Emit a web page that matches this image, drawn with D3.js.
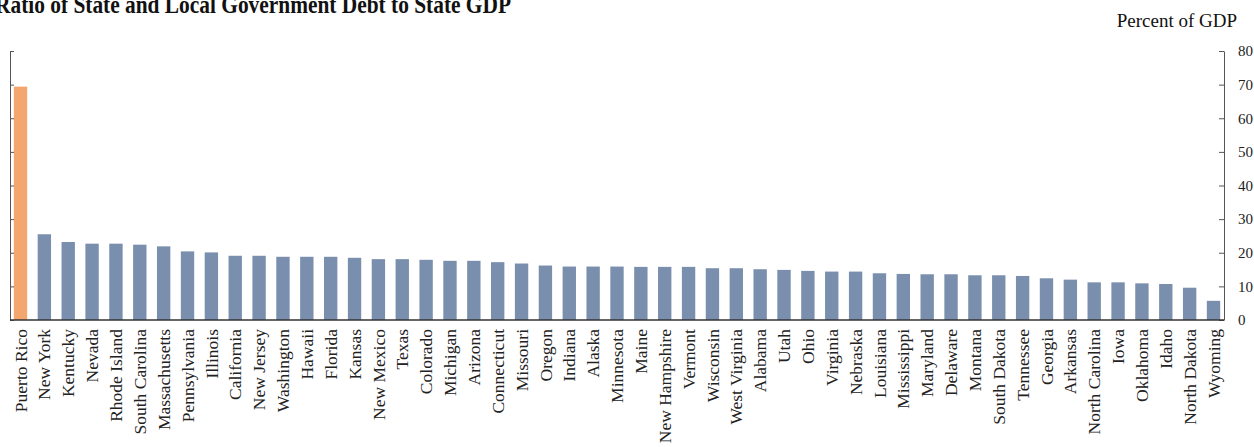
<!DOCTYPE html>
<html>
<head>
<meta charset="utf-8">
<script src="https://cdn.jsdelivr.net/npm/d3@7"></script>
<style>
  html, body { margin: 0; padding: 0; background: #fff; }
  svg { display: block; }
</style>
</head>
<body>
<svg id="chart" width="1254" height="447"></svg>
<script>
// Ratio of state and local government debt to state GDP (percent)
const states = [
  "Puerto Rico", "New York", "Kentucky", "Nevada", "Rhode Island", "South Carolina",
  "Massachusetts", "Pennsylvania", "Illinois", "California", "New Jersey", "Washington",
  "Hawaii", "Florida", "Kansas", "New Mexico", "Texas", "Colorado", "Michigan", "Arizona",
  "Connecticut", "Missouri", "Oregon", "Indiana", "Alaska", "Minnesota", "Maine",
  "New Hampshire", "Vermont", "Wisconsin", "West Virginia", "Alabama", "Utah", "Ohio",
  "Virginia", "Nebraska", "Louisiana", "Mississippi", "Maryland", "Delaware", "Montana",
  "South Dakota", "Tennessee", "Georgia", "Arkansas", "North Carolina", "Iowa", "Oklahoma",
  "Idaho", "North Dakota", "Wyoming"
];
const debtRatio = [
  69.4, 25.5, 23.2, 22.7, 22.7, 22.4,
  21.9, 20.4, 20.1, 19.1, 19.1, 18.8,
  18.8, 18.8, 18.5, 18.1, 18.1, 17.9, 17.6, 17.6,
  17.2, 16.8, 16.2, 15.9, 15.9, 15.9, 15.8,
  15.8, 15.8, 15.4, 15.4, 15.1, 14.9, 14.6,
  14.4, 14.4, 13.9, 13.7, 13.6, 13.6, 13.3,
  13.3, 13.1, 12.4, 12.0, 11.2, 11.2, 10.9,
  10.7, 9.6, 5.7
];
const highlight = ["Puerto Rico"];
const yTicks = [0, 10, 20, 30, 40, 50, 60, 70, 80];

(function() {
  const xLeft = 10, xRight = 1224, yTop = 51, yBottom = 320;
  const serif = "'Liberation Serif', 'Times New Roman', serif";

  const svg = d3.select('#chart');

  const x = d3.scaleBand()
    .domain(states)
    .range([xLeft, xRight])
    .paddingInner(0.44)
    .paddingOuter(0.16);

  const y = d3.scaleLinear()
    .domain([0, 80])
    .range([yBottom, yTop]);

  // Title -- the source image crops it at the top edge
  svg.append('text')
    .attr('x', -5).attr('y', 13)
    .attr('font-family', serif)
    .attr('font-weight', 'bold')
    .attr('font-size', '26px')
    .attr('textLength', 516)
    .attr('lengthAdjust', 'spacingAndGlyphs')
    .attr('fill', '#111')
    .text('Ratio of State and Local Government Debt to State GDP');

  svg.append('text')
    .attr('x', 1237).attr('y', 27)
    .attr('text-anchor', 'end')
    .attr('font-family', serif)
    .attr('font-size', '19px')
    .attr('fill', '#111')
    .text('Percent of GDP');

  // Bars
  svg.append('g').selectAll('rect')
    .data(states)
    .join('rect')
    .attr('x', d => x(d))
    .attr('width', x.bandwidth())
    .attr('y', (d, i) => y(debtRatio[i]))
    .attr('height', (d, i) => y(0) - y(debtRatio[i]))
    .attr('fill', d => highlight.includes(d) ? '#f4a66f' : '#7a8fad');

  // Left axis (ticks only)
  const leftAxis = svg.append('g')
    .attr('transform', `translate(${xLeft},0)`)
    .call(d3.axisRight(y).tickValues(yTicks).tickSize(4).tickSizeOuter(0).tickFormat(''));
  leftAxis.select('.domain').attr('stroke', '#555');
  leftAxis.selectAll('.tick line').attr('stroke', '#555');

  // Right axis
  const rightAxis = svg.append('g')
    .attr('transform', `translate(${xRight},0)`)
    .call(d3.axisRight(y).tickValues(yTicks).tickSize(0).tickSizeOuter(0).tickPadding(14));
  rightAxis.select('.domain').attr('stroke', '#555');
  rightAxis.selectAll('.tick text')
    .attr('font-family', serif)
    .attr('font-size', '15px')
    .attr('fill', '#222');
  rightAxis.selectAll('.tick').append('line')
    .attr('x1', -5).attr('x2', 0)
    .attr('stroke', '#555');

  // Baseline
  svg.append('line')
    .attr('x1', xLeft).attr('x2', xRight)
    .attr('y1', y(0)).attr('y2', y(0))
    .attr('stroke', '#333')
    .attr('stroke-width', 1.5);

  // Category labels, rotated
  svg.append('g').selectAll('text')
    .data(states)
    .join('text')
    .attr('transform', d => `translate(${x(d) + x.bandwidth() / 2},${yBottom + 9}) rotate(-90)`)
    .attr('text-anchor', 'end')
    .attr('dy', '0.35em')
    .attr('font-family', serif)
    .attr('font-size', '17.5px')
    .attr('fill', '#222')
    .text(d => d);
})();
</script>
</body>
</html>
